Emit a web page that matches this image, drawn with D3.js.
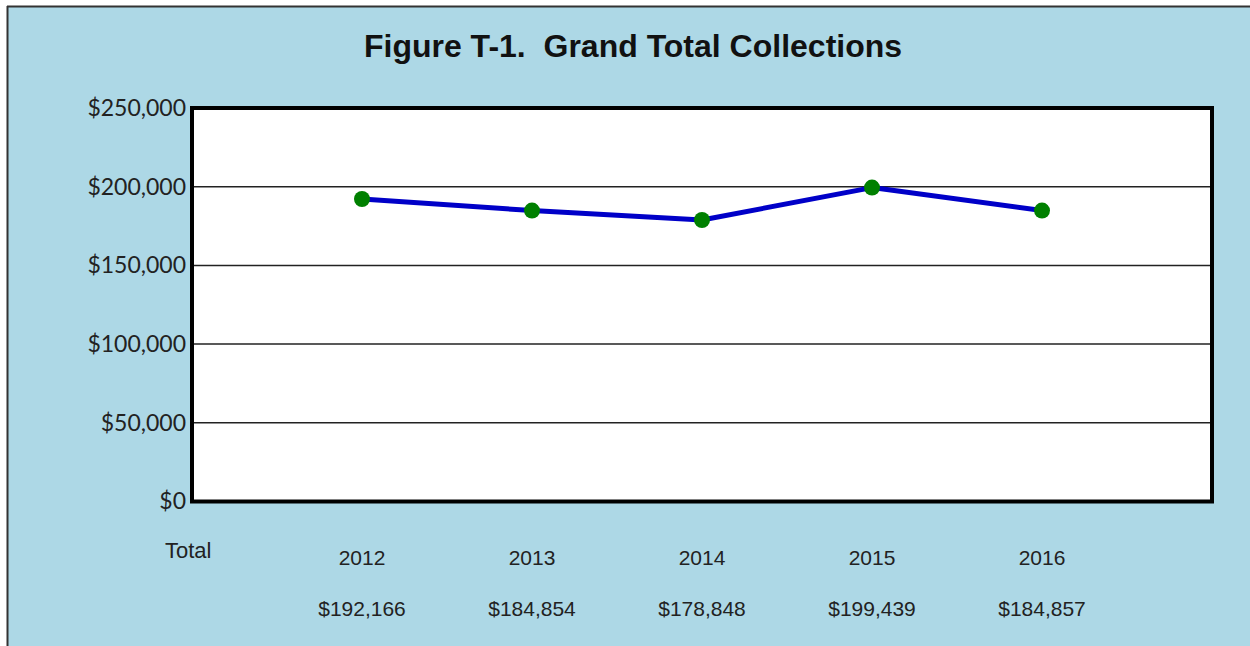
<!DOCTYPE html>
<html><head><meta charset="utf-8">
<script src="https://cdn.jsdelivr.net/npm/d3@7"></script>
<style>html,body{margin:0;padding:0;background:#fff;}svg{display:block;}</style>
</head><body>
<svg id="c" width="1250" height="646"></svg>
<script>
const years = ["2012","2013","2014","2015","2016"];
const values = [192166, 184854, 178848, 199439, 184857];
const valueLabels = ["$192,166","$184,854","$178,848","$199,439","$184,857"];
const yTicks = [0, 50000, 100000, 150000, 200000, 250000];
const title = "Figure T-1.  Grand Total Collections";
const rowLabel = "Total";

const svg = d3.select("#c");
// background panel
svg.append("rect").attr("x",7).attr("y",6).attr("width",1250).attr("height",646).attr("fill","#add8e6");
svg.append("line").attr("x1",7).attr("x2",1250).attr("y1",6.5).attr("y2",6.5).attr("stroke","#333").attr("stroke-width",2);
svg.append("line").attr("x1",7.5).attr("x2",7.5).attr("y1",6).attr("y2",646).attr("stroke","#333").attr("stroke-width",2);

const L=192, R=1212, T=108, B=501.5;
const x = d3.scaleLinear().domain([-1, years.length]).range([L, R]);
const y = d3.scaleLinear().domain([0, 250000]).range([B, T]);

svg.append("rect").attr("x",L).attr("y",T).attr("width",R-L).attr("height",B-T).attr("fill","#fff");

// gridlines
svg.append("g").selectAll("line").data(yTicks.slice(1,-1)).join("line")
  .attr("x1",L).attr("x2",R).attr("y1",d=>y(d)).attr("y2",d=>y(d))
  .attr("stroke","#222").attr("stroke-width",1.5);

// y axis labels via axis
const ya = svg.append("g").attr("transform",`translate(${L-2},0)`)
  .call(d3.axisLeft(y).tickValues(yTicks).tickSize(0).tickPadding(4)
    .tickFormat(d=>"$"+d3.format(",")(d)));
ya.select(".domain").remove();
ya.selectAll("text").attr("font-family","Lato, 'Open Sans', sans-serif").attr("font-size",23).attr("fill","#222");

// frame
svg.append("rect").attr("x",L).attr("y",T).attr("width",R-L).attr("height",B-T)
  .attr("fill","none").attr("stroke","#000").attr("stroke-width",4);

// line
svg.append("path").datum(values)
  .attr("d", d3.line().x((d,i)=>x(i)).y(d=>y(d)))
  .attr("fill","none").attr("stroke","#0000c8").attr("stroke-width",5).attr("stroke-linejoin","round");
svg.append("g").selectAll("circle").data(values).join("circle")
  .attr("cx",(d,i)=>x(i)).attr("cy",d=>y(d)).attr("r",8).attr("fill","#008000");

// title
svg.append("text").attr("x",633).attr("y",57).attr("text-anchor","middle")
  .attr("font-family","'Liberation Sans', Arial, sans-serif").attr("font-weight","bold")
  .attr("font-size",32).attr("fill","#111").style("white-space","pre").text(title);

// table
const f = "'Liberation Sans', Arial, sans-serif";
svg.append("text").attr("x",165).attr("y",558).attr("font-family",f).attr("font-size",22).attr("fill","#222").text(rowLabel);
svg.append("g").selectAll("text").data(years).join("text")
  .attr("x",(d,i)=>x(i)).attr("y",565).attr("text-anchor","middle")
  .attr("font-family",f).attr("font-size",21).attr("fill","#222").text(d=>d);
svg.append("g").selectAll("text").data(valueLabels).join("text")
  .attr("x",(d,i)=>x(i)).attr("y",616).attr("text-anchor","middle")
  .attr("font-family",f).attr("font-size",21).attr("fill","#222").text(d=>d);
</script>
</body></html>
